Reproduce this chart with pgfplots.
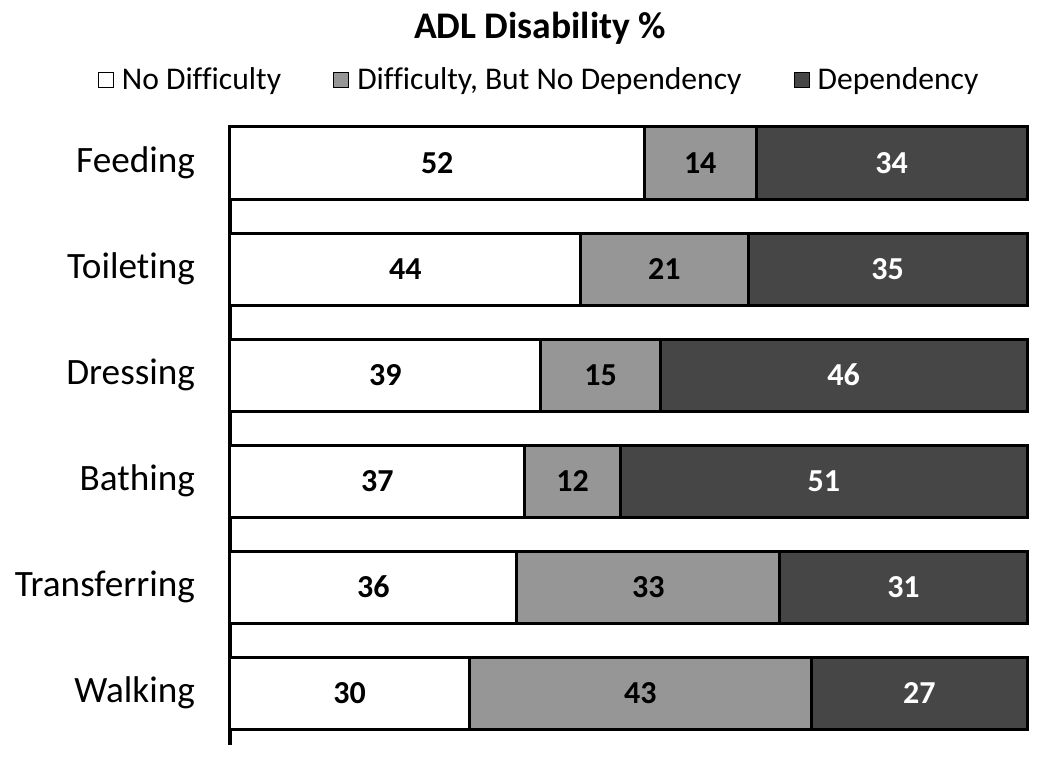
\documentclass[border=0pt]{standalone}
\usepackage{fontspec}
\setmainfont{Carlito}[Ligatures=NoCommon]
\usepackage{pgfplots}
\pgfplotsset{compat=1.18}
\definecolor{midgray}{RGB}{150,150,150}
\definecolor{darkgray2}{RGB}{70,70,70}
\begin{document}
\begin{tikzpicture}
\useasboundingbox (-115pt,-6.5pt) rectangle (404pt,372.5pt);
\begin{axis}[
  scale only axis,
  clip=false,
  width=398.5pt, height=309pt,
  xmin=0, xmax=100,
  ymin=-0.34, ymax=5.49,
  y dir=reverse,
  xbar stacked,
  bar width=0.68,
  axis x line=none,
  axis y line*=left,
  axis line style={line width=1.6pt, -},
  ytick={0,1,2,3,4,5},
  yticklabels={Feeding,Toileting,Dressing,Bathing,Transferring,Walking},
  yticklabel style={font=\fontsize{18.6}{22}\selectfont, xshift=-14pt},
  ytick style={draw=none},
  legend columns=3,
  legend style={draw=none, at={(0.389,1.076)}, anchor=center,
    font=\fontsize{15.8}{18}\selectfont,
    /tikz/every odd column/.append style={column sep=2pt},
    /tikz/every even column/.append style={column sep=24pt}},
  legend image code/.code={\draw[#1, draw=black, line width=0.5pt] (0pt,-3.8pt) rectangle (7.6pt,3.8pt);},
]
\addplot[fill=white, draw=black, line width=1.5pt] coordinates {(52,0) (44,1) (39,2) (37,3) (36,4) (30,5)};
\addplot[fill=midgray, draw=black, line width=1.5pt] coordinates {(14,0) (21,1) (15,2) (12,3) (33,4) (43,5)};
\addplot[fill=darkgray2, draw=black, line width=1.5pt] coordinates {(34,0) (35,1) (46,2) (51,3) (31,4) (27,5)};
\legend{No Difficulty, {Difficulty, But No Dependency}, Dependency}
\node[font=\bfseries\fontsize{18.8}{22}\selectfont] at (axis description cs:0.389,1.160) {ADL Disability \%};
\end{axis}
\begin{axis}[
  scale only axis,
  width=398.5pt, height=309pt,
  xmin=0, xmax=100,
  ymin=-0.34, ymax=5.49,
  y dir=reverse,
  hide axis,
  point meta=explicit symbolic,
  nodes near coords,
  every node near coord/.append style={anchor=center, font=\bfseries\fontsize{16}{18}\selectfont},
]
\addplot[draw=none, mark=none, nodes near coords, every node near coord/.append style={text=black}]
  coordinates {(26,0) [52] (22,1) [44] (19.5,2) [39] (18.5,3) [37] (18,4) [36] (15,5) [30]};
\addplot[draw=none, mark=none, nodes near coords, every node near coord/.append style={text=black}]
  coordinates {(59,0) [14] (54.5,1) [21] (46.5,2) [15] (43,3) [12] (52.5,4) [33] (51.5,5) [43]};
\addplot[draw=none, mark=none, nodes near coords, every node near coord/.append style={text=white}]
  coordinates {(83,0) [34] (82.5,1) [35] (77,2) [46] (74.5,3) [51] (84.5,4) [31] (86.5,5) [27]};
\end{axis}
\end{tikzpicture}
\end{document}
